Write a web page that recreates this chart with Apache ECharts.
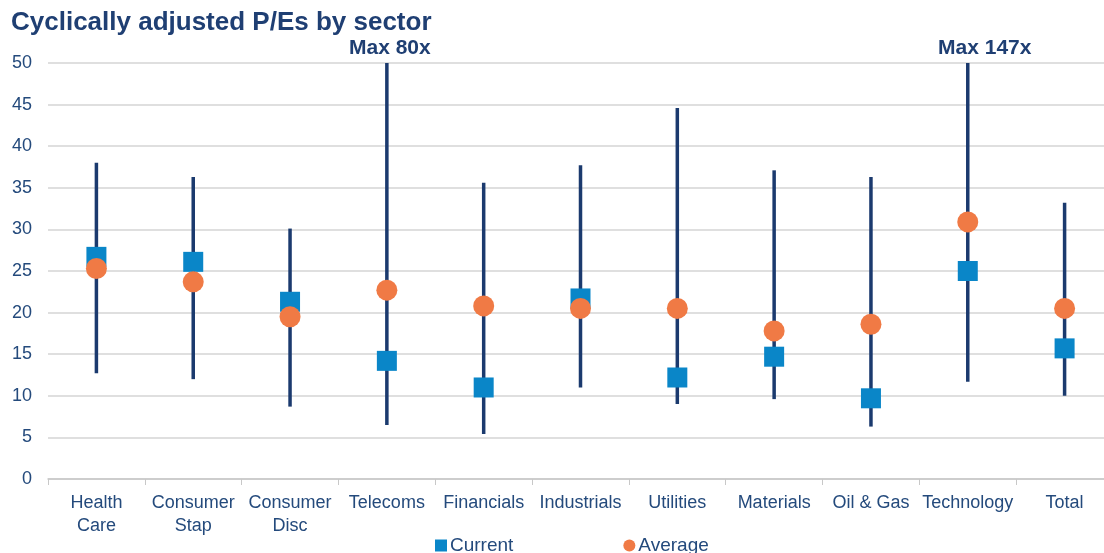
<!DOCTYPE html>
<html><head><meta charset="utf-8">
<script src="https://cdn.jsdelivr.net/npm/echarts@6/dist/echarts.min.js"></script>
<style>html,body{margin:0;padding:0;background:#fff;overflow:hidden}#c{width:1113px;height:553px}</style>
</head><body><div id="c"></div>
<script>
var categories = ['Health\nCare','Consumer\nStap','Consumer\nDisc','Telecoms','Financials','Industrials','Utilities','Materials','Oil & Gas','Technology','Total'];
var rangeMin = [12.7, 12.0, 8.7, 6.5, 5.4, 11.0, 9.0, 9.6, 6.3, 11.7, 10.0];
var rangeMax = [38.0, 36.3, 30.1, 80, 35.6, 37.7, 44.6, 37.1, 36.3, 147, 33.2];
var current = [26.7, 26.1, 21.3, 14.2, 11.0, 21.7, 12.2, 14.7, 9.7, 25.0, 15.7];
var average = [25.3, 23.7, 19.5, 22.7, 20.8, 20.5, 20.5, 17.8, 18.6, 30.9, 20.5];
var maxNotes = ['', '', '', 'Max 80x', '', '', '', '', '', 'Max 147x', ''];
var yTicks = [0, 50, 5];

var navy = '#1b3a6e';
var txt = '#244a7c';
var chart = echarts.init(document.getElementById('c'));
var rangeData = categories.map(function(c, i){ return [i, rangeMin[i], rangeMax[i]]; });

chart.setOption({
  animation: false,
  title: {text: 'Cyclically adjusted P/Es by sector', left: 6, top: 5,
    textStyle: {fontFamily: 'Liberation Sans, Arial, sans-serif', fontWeight: 'bold', fontSize: 26, color: '#1f3f73'}},
  grid: {left: 48, top: 63, right: 0, height: 416},
  legend: {top: 536, left: 435, padding: 0, itemGap: 110, itemWidth: 12, itemHeight: 12,
    textStyle: {fontFamily: 'Liberation Sans, Arial, sans-serif', fontSize: 19, color: txt, padding: [0,0,0,-2]},
    data: [{name: 'Current', icon: 'rect'}, {name: 'Average', icon: 'circle'}]},
  xAxis: {type: 'category', data: categories,
    axisLine: {lineStyle: {color: '#c8c8c8', width: 1.5}},
    axisTick: {show: true, length: 6, lineStyle: {color: '#c8c8c8'}},
    axisLabel: {margin: 13, fontFamily: 'Liberation Sans, Arial, sans-serif', fontSize: 18, color: txt, lineHeight: 23, interval: 0}},
  yAxis: {type: 'value', min: yTicks[0], max: yTicks[1], interval: yTicks[2],
    axisLine: {show: false}, axisTick: {show: false},
    splitLine: {lineStyle: {color: '#d4d4d4', width: 1.5}},
    axisLabel: {margin: 16, fontFamily: 'Liberation Sans, Arial, sans-serif', fontSize: 18, color: txt}},
  series: [
    {type: 'custom', name: 'range', data: rangeData, z: 2,
      renderItem: function(params, api){
        var i = api.value(0);
        var top = Math.min(api.value(2), yTicks[1]);
        var p1 = api.coord([i, api.value(1)]);
        var p2 = api.coord([i, top]);
        var children = [{type: 'line', shape: {x1: p1[0], y1: p1[1], x2: p2[0], y2: p2[1]},
          style: {stroke: navy, lineWidth: 3.5}}];
        if (maxNotes[i]) {
          children.push({type: 'text', x: p2[0] + (i === 9 ? 17 : 3), y: p2[1] - 4,
            style: {text: maxNotes[i], align: 'center', verticalAlign: 'bottom',
              font: 'bold 21px "Liberation Sans", Arial, sans-serif', fill: '#1f3f73'}});
        }
        return {type: 'group', children: children};
      }},
    {type: 'scatter', name: 'Current', data: current, symbol: 'rect', symbolSize: 20, z: 3,
      itemStyle: {color: '#0a86c8', opacity: 1}},
    {type: 'scatter', name: 'Average', data: average, symbol: 'circle', symbolSize: 21, z: 4,
      itemStyle: {color: '#f07a45', opacity: 1}}
  ]
});
</script></body></html>
